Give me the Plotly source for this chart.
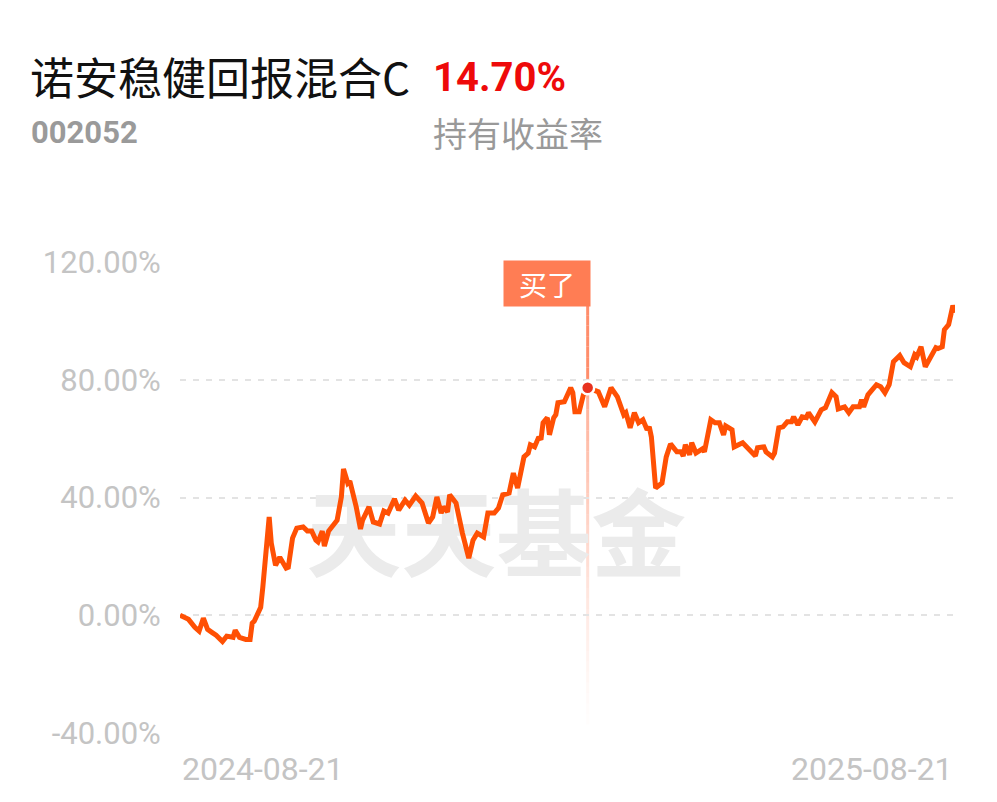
import plotly.graph_objects as go

# ---------------- data ----------------
fund_name = "诺安稳健回报混合C"
fund_code = "002052"
hold_return_label = "14.70%"
hold_return_caption = "持有收益率"
buy_label = "买了"
watermark = "天天基金"

dates = [
    "2024-08-21", "2024-08-25", "2024-08-28", "2024-08-30", "2024-09-01", "2024-09-03",
    "2024-09-05", "2024-09-07", "2024-09-10", "2024-09-12", "2024-09-15", "2024-09-16",
    "2024-09-18", "2024-09-21", "2024-09-23", "2024-09-24", "2024-09-25", "2024-09-28",
    "2024-09-29", "2024-10-02", "2024-10-03", "2024-10-05", "2024-10-07", "2024-10-10",
    "2024-10-11", "2024-10-13", "2024-10-15", "2024-10-18", "2024-10-20", "2024-10-22",
    "2024-10-24", "2024-10-25", "2024-10-27", "2024-10-28", "2024-10-30", "2024-11-01",
    "2024-11-03", "2024-11-05", "2024-11-06", "2024-11-08", "2024-11-09", "2024-11-12",
    "2024-11-14", "2024-11-15", "2024-11-18", "2024-11-20", "2024-11-23", "2024-11-25",
    "2024-11-27", "2024-11-30", "2024-12-02", "2024-12-05", "2024-12-07", "2024-12-10",
    "2024-12-13", "2024-12-16", "2024-12-18", "2024-12-20", "2024-12-22", "2024-12-23",
    "2024-12-25", "2024-12-26", "2024-12-29", "2025-01-01", "2025-01-03", "2025-01-04",
    "2025-01-06", "2025-01-08", "2025-01-11", "2025-01-13", "2025-01-16", "2025-01-18",
    "2025-01-20", "2025-01-23", "2025-01-25", "2025-01-27", "2025-01-30", "2025-02-01",
    "2025-02-02", "2025-02-04", "2025-02-06", "2025-02-07", "2025-02-08", "2025-02-10",
    "2025-02-11", "2025-02-13", "2025-02-14", "2025-02-15", "2025-02-18", "2025-02-21",
    "2025-02-22", "2025-02-23", "2025-02-25", "2025-02-27", "2025-03-01", "2025-03-06",
    "2025-03-09", "2025-03-12", "2025-03-15", "2025-03-18", "2025-03-19", "2025-03-21",
    "2025-03-23", "2025-03-25", "2025-03-27", "2025-03-29", "2025-03-30", "2025-03-31",
    "2025-04-02", "2025-04-05", "2025-04-07", "2025-04-09", "2025-04-12", "2025-04-14",
    "2025-04-15", "2025-04-16", "2025-04-18", "2025-04-19", "2025-04-21", "2025-04-24",
    "2025-04-25", "2025-04-28", "2025-04-30", "2025-05-02", "2025-05-04", "2025-05-05",
    "2025-05-08", "2025-05-09", "2025-05-13", "2025-05-15", "2025-05-19", "2025-05-20",
    "2025-05-23", "2025-05-24", "2025-05-27", "2025-05-28", "2025-05-30", "2025-06-01",
    "2025-06-03", "2025-06-05", "2025-06-06", "2025-06-08", "2025-06-10", "2025-06-12",
    "2025-06-13", "2025-06-16", "2025-06-19", "2025-06-21", "2025-06-24", "2025-06-26",
    "2025-06-27", "2025-06-30", "2025-07-02", "2025-07-04", "2025-07-07", "2025-07-08",
    "2025-07-09", "2025-07-11", "2025-07-15", "2025-07-17", "2025-07-19", "2025-07-21",
    "2025-07-23", "2025-07-26", "2025-07-28", "2025-07-31", "2025-08-02", "2025-08-03",
    "2025-08-05", "2025-08-07", "2025-08-09", "2025-08-12", "2025-08-13", "2025-08-15",
    "2025-08-16", "2025-08-18", "2025-08-20", "2025-08-21",
]

returns_pct = [
    0.0, -1.4, -4.1, -5.4, -1.0, -4.8,
    -5.8, -6.8, -8.9, -7.1, -7.5, -5.1,
    -7.5, -8.2, -8.2, -2.7, -2.0, 2.7,
    9.5, 33.4, 24.5, 17.0, 19.7, 16.0,
    16.3, 26.2, 29.6, 30.0, 28.6, 28.6,
    25.5, 24.9, 28.6, 23.5, 28.6, 30.6,
    32.3, 40.2, 49.7, 44.9, 45.6, 36.8,
    29.3, 32.3, 36.8, 31.7, 31.0, 35.4,
    34.7, 39.5, 35.7, 39.1, 37.4, 40.5,
    38.1, 31.3, 33.4, 40.2, 34.7, 36.8,
    35.1, 40.9, 38.1, 27.9, 21.1, 19.4,
    25.5, 27.9, 26.6, 34.7, 34.7, 36.4,
    40.9, 41.5, 48.3, 43.2, 53.8, 55.1,
    57.9, 57.2, 60.6, 59.6, 65.4, 67.1,
    61.3, 67.1, 68.1, 72.2, 72.5, 77.3,
    75.6, 69.1, 69.1, 74.9, 77.3, 75.9,
    70.8, 77.3, 74.2, 68.1, 68.8, 63.7,
    68.8, 65.4, 66.4, 63.0, 64.0, 60.6,
    43.2, 44.9, 53.8, 58.2, 55.5, 55.5,
    54.1, 57.9, 54.5, 58.6, 55.1, 56.5,
    55.5, 66.4, 65.4, 65.4, 61.3, 64.3,
    63.0, 57.2, 58.6, 57.2, 54.1, 56.9,
    57.2, 55.5, 53.8, 55.1, 63.7, 64.0,
    65.7, 65.7, 67.4, 64.7, 67.4, 67.1,
    68.8, 65.7, 69.8, 70.5, 75.6, 74.2,
    70.1, 70.8, 68.8, 70.8, 70.8, 73.2,
    70.8, 74.9, 78.3, 77.6, 75.6, 78.3,
    86.1, 88.2, 85.8, 84.4, 88.5, 87.8,
    91.2, 84.4, 86.8, 90.9, 90.6, 91.2,
    97.0, 98.7, 105.2, 102.8,
]

buy_date = "2025-03-01"
y_tickvals = [-40, 0, 40, 80, 120]
y_ticktext = ["-40.00%", "0.00%", "40.00%", "80.00%", "120.00%"]

# ---------------- layout helpers ----------------
OFF = 8  # page body margin
W, H = 997 - OFF, 802 - OFF
# plot area in screen pixels: x 180..955, y 262.5..733
ML = 180 - OFF
MR = 997 - 955
MT = 262 - OFF
MB = 802 - 733
PW, PH = W - ML - MR, H - MT - MB


def px(x):
    return (x - OFF - ML) / PW


def py(y):
    return (H - MB - (y - OFF)) / PH


buy_idx = dates.index(buy_date)
buy_value = returns_pct[buy_idx]

LINE_COLOR = "#ff5004"
GREY_TXT = "#c4c4c4"

fig = go.Figure()

# watermark (behind the line)
fig.add_trace(go.Scatter(
    x=["2025-01-17"], y=[23.5], mode="text", text=[watermark],
    textfont=dict(size=95, color="#ebebeb", family="Noto Sans CJK SC", weight="bold"),
    hoverinfo="skip", showlegend=False,
))

# buy vertical line, fading downward
top_v, bot_v = 105.5, -37.0
n_seg = 40
for i in range(n_seg):
    y0 = top_v - (top_v - bot_v) * i / n_seg
    y1 = top_v - (top_v - bot_v) * (i + 1) / n_seg
    if y0 > buy_value:
        op = 0.85
    else:
        frac = (buy_value - y0) / (buy_value - bot_v)
        op = max(0.0, 0.6 * (1 - frac) ** 1.3)
    fig.add_shape(type="line", xref="x", yref="y", x0=buy_date, x1=buy_date,
                  y0=y0, y1=y1, line=dict(color="#ff7a52", width=3), opacity=op,
                  layer="below")

# main line
fig.add_trace(go.Scatter(
    x=dates, y=returns_pct, mode="lines",
    line=dict(color=LINE_COLOR, width=5, shape="linear"),
    hoverinfo="skip", showlegend=False,
))

# buy point
fig.add_trace(go.Scatter(
    x=[buy_date], y=[buy_value], mode="markers",
    marker=dict(size=13, color="#e8321f", line=dict(color="white", width=2.5)),
    hoverinfo="skip", showlegend=False,
))

annotations = [
    dict(text=fund_name, x=px(28), y=py(76), xref="paper", yref="paper",
         xanchor="left", yanchor="middle", showarrow=False,
         font=dict(size=44, color="#111111", family="Noto Sans CJK SC")),
    dict(text=hold_return_label, x=px(431), y=py(77), xref="paper", yref="paper",
         xanchor="left", yanchor="middle", showarrow=False,
         font=dict(size=40, color="#ee0a0a", family="Roboto", weight="bold")),
    dict(text=fund_code, x=px(29), y=py(132), xref="paper", yref="paper",
         xanchor="left", yanchor="middle", showarrow=False,
         font=dict(size=31, color="#9a9a9a", family="Roboto", weight="bold")),
    dict(text=hold_return_caption, x=px(431), y=py(132), xref="paper", yref="paper",
         xanchor="left", yanchor="middle", showarrow=False,
         font=dict(size=34, color="#999999", family="Noto Sans CJK SC")),
    dict(text=buy_label, x=buy_date, y=py(260), xref="x", yref="paper",
         xanchor="right", yanchor="top", xshift=3, showarrow=False,
         width=86, height=45, align="center", valign="middle",
         bgcolor="#ff7d54", borderpad=0,
         font=dict(size=28, color="white", family="Noto Sans CJK SC")),
    dict(text=dates[0], x=dates[0], y=py(769), xref="x", yref="paper",
         xanchor="left", yanchor="middle", showarrow=False,
         font=dict(size=32, color=GREY_TXT, family="Roboto")),
    dict(text=dates[-1], x=dates[-1], y=py(769), xref="x", yref="paper",
         xanchor="right", yanchor="middle", showarrow=False,
         font=dict(size=32, color=GREY_TXT, family="Roboto")),
]

fig.update_layout(
    width=W, height=H,
    margin=dict(l=ML, r=MR, t=MT, b=MB, pad=0),
    paper_bgcolor="white", plot_bgcolor="white",
    showlegend=False,
    annotations=annotations,
    xaxis=dict(range=[dates[0], dates[-1]], showgrid=False, zeroline=False,
               showticklabels=False, showline=False, ticks=""),
    yaxis=dict(range=[-40, 120], tickvals=y_tickvals, ticktext=y_ticktext,
               showgrid=True, gridcolor="#e3e3e3", gridwidth=1.5, griddash="6px,7px",
               zeroline=False, showline=False, ticks="outside", ticklen=12,
               tickcolor="rgba(0,0,0,0)",
               tickfont=dict(size=31, color=GREY_TXT, family="Roboto")),
)

fig.write_html("out.html")
